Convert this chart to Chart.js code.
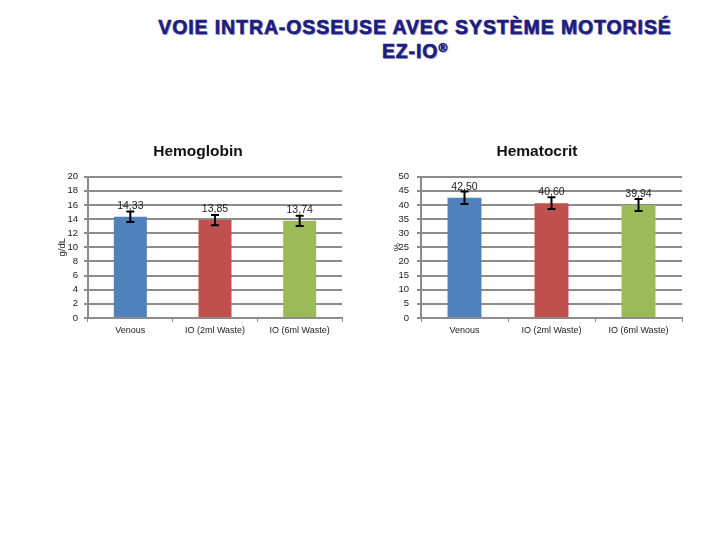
<!DOCTYPE html>
<html>
<head>
<meta charset="utf-8">
<script src="https://cdn.jsdelivr.net/npm/chart.js@4.4.0/dist/chart.umd.min.js"></script>
<style>
  html,body{margin:0;padding:0;background:#fff;}
  body{width:720px;height:540px;position:relative;overflow:hidden;}
  #title{position:absolute;left:115px;width:600px;top:15px;text-align:center;
    font-family:"Liberation Sans",Arial,sans-serif;font-weight:bold;font-size:19.5px;
    letter-spacing:0.9px;-webkit-text-stroke:0.6px #1a1a78;
    line-height:24px;color:#1e1e82;text-shadow:1px 1px 1px #a0a0cc;}
  #title sup{font-size:12px;vertical-align:top;position:relative;top:-3px;}
  .box{position:absolute;}
</style>
</head>
<body>
<div id="title">VOIE INTRA-OSSEUSE AVEC SYSTÈME MOTORISÉ<br>EZ-IO<sup>®</sup></div>
<div class="box" style="left:54px;top:135px;width:296px;height:210px;"><canvas id="c1"></canvas></div>
<div class="box" style="left:392px;top:135px;width:298px;height:210px;"><canvas id="c2"></canvas></div>
<script>
const categories = ["Venous", "IO (2ml Waste)", "IO (6ml Waste)"];
const hemoglobin = [14.33, 13.85, 13.74];
const hemoglobinErr = [0.75, 0.72, 0.74];
const hematocrit = [42.50, 40.60, 39.94];
const hematocritErr = [2.2, 2.1, 2.1];
const hbTicksMax = 20, hbStep = 2;
const htTicksMax = 50, htStep = 5;
const barColors = ["#4f81bd", "#c0504d", "#9bbb59"];

const errPlugin = {
  id: 'errbars',
  afterDatasetsDraw(chart, args, opts) {
    const ctx = chart.ctx;
    const meta = chart.getDatasetMeta(0);
    const ys = chart.scales.y;
    const ds = chart.data.datasets[0];
    ctx.save();
    meta.data.forEach((bar, i) => {
      const v = ds.data[i], e = opts.err[i];
      const yt = ys.getPixelForValue(v + e), yb = ys.getPixelForValue(v - e);
      ctx.strokeStyle = '#000';
      ctx.lineWidth = 2;
      ctx.beginPath();
      ctx.moveTo(bar.x, yt); ctx.lineTo(bar.x, yb);
      ctx.moveTo(bar.x - 4, yt); ctx.lineTo(bar.x + 4, yt);
      ctx.moveTo(bar.x - 4, yb); ctx.lineTo(bar.x + 4, yb);
      ctx.stroke();
    });
    ctx.fillStyle = '#1a1a1a';
    ctx.font = '10.5px "Liberation Sans", Arial, sans-serif';
    ctx.textAlign = 'center';
    ctx.textBaseline = 'middle';
    meta.data.forEach((bar, i) => {
      ctx.fillText(ds.data[i].toFixed(2).replace('.', ','), bar.x, bar.y - 11);
    });
    ctx.restore();
  }
};

function makeChart(id, title, values, errs, max, step, unit, yWidth, tickPad, rightPad, titleOff) {
  return new Chart(document.getElementById(id), {
    type: 'bar',
    data: {
      labels: categories,
      datasets: [{ data: values, backgroundColor: barColors, borderWidth: 0,
        categoryPercentage: 1.0, barPercentage: 0.39 }]
    },
    options: {
      responsive: true, maintainAspectRatio: false, animation: false,
      layout: { padding: { left: 0, right: rightPad, top: 0, bottom: 0 } },
      plugins: {
        legend: { display: false }, tooltip: { enabled: false },
        title: { display: true, text: title, color: '#111',
          font: { family: '"Liberation Sans", Arial, sans-serif', size: 15.5, weight: 'bold' },
          padding: { top: 7, bottom: 16 } },
        errbars: { err: errs }
      },
      scales: {
        x: {
          grid: { display: true, drawOnChartArea: false, drawTicks: true, tickLength: 4,
            color: '#8c8c8c', lineWidth: 1, offset: true },
          border: { display: true, color: '#8c8c8c', width: 2 },
          ticks: { color: '#1a1a1a', font: { family: '"Liberation Sans", Arial, sans-serif', size: 9 }, padding: 3, maxRotation: 0, autoSkip: false },
          afterFit(s) { s.height = 27; }
        },
        y: {
          min: 0, max: max,
          grid: { color: '#8c8c8c', lineWidth: 2, tickLength: 4, drawTicks: true },
          border: { display: true, color: '#8c8c8c', width: 2 },
          ticks: { stepSize: step, color: '#1a1a1a', padding: tickPad, autoSkip: false,
            font: { family: '"Liberation Sans", Arial, sans-serif', size: 9.5 } },
          title: { display: true, text: unit, color: '#1a1a1a', padding: { top: titleOff, bottom: 0 },
            font: { family: '"Liberation Sans", Arial, sans-serif', size: 9.5 } },
          afterFit(s) { s.width = yWidth; }
        }
      }
    },
    plugins: [errPlugin]
  });
}

makeChart('c1', 'Hemoglobin', hemoglobin, hemoglobinErr, hbTicksMax, hbStep, 'g/dL', 34, 6, 8, 3);
makeChart('c2', 'Hematocrit', hematocrit, hematocritErr, htTicksMax, htStep, '%', 29, 8, 8, 0);
</script>
</body>
</html>
